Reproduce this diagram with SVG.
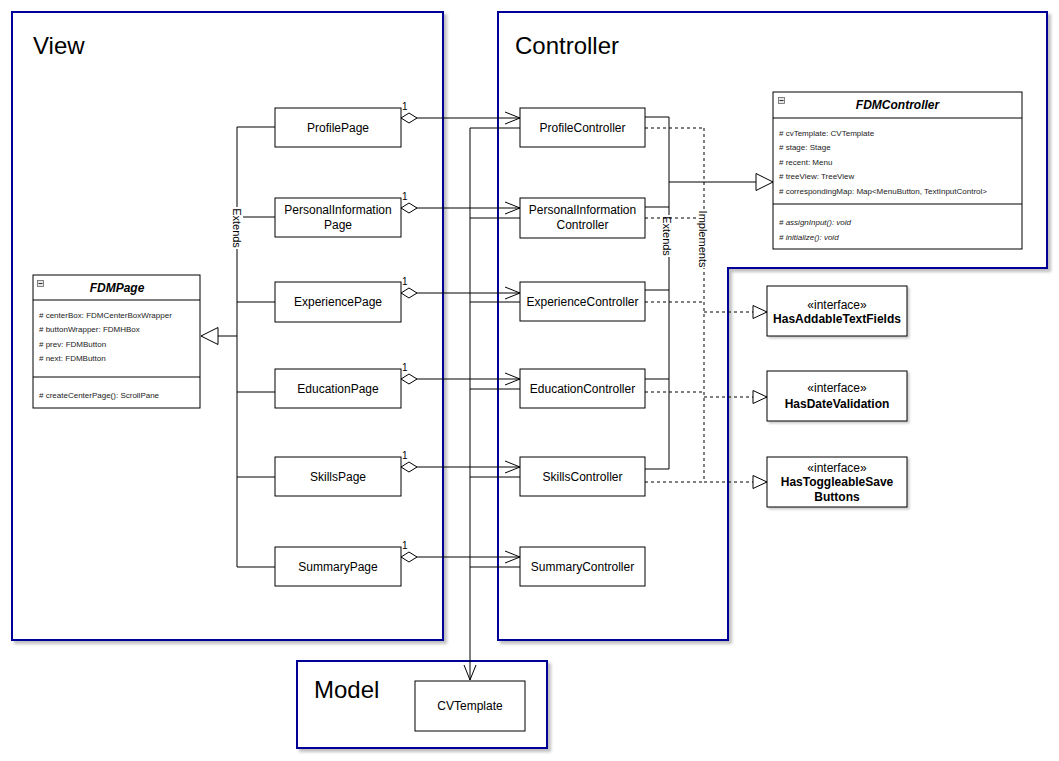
<svg xmlns="http://www.w3.org/2000/svg" width="1059" height="761" viewBox="0 0 1059 761">
  <defs>
    <style>
      .pkg { fill: #ffffff; stroke: #000099; stroke-width: 2; filter: url(#shadow); }
      .pkg-title { font-family: "Liberation Sans", Arial, sans-serif; font-size: 24px; fill: #000; }
      .node { fill: #ffffff; stroke: #000; stroke-width: 1; }
      .soft { filter: url(#nodeShadow); }
      .label { font-family: "Liberation Sans", Arial, sans-serif; font-size: 12px; fill: #000; text-anchor: middle; }
      .bold { font-weight: bold; }
      .cls-title { font-family: "Liberation Sans", Arial, sans-serif; font-size: 12px; font-weight: bold; font-style: italic; text-anchor: middle; }
      .member { font-family: "Liberation Sans", Arial, sans-serif; font-size: 8px; fill: #222; }
      .italic { font-style: italic; }
      .edge { fill: none; stroke: #000; stroke-width: 1; }
      .dashed { stroke-dasharray: 3 3; }
      .mult { font-family: "Liberation Sans", Arial, sans-serif; font-size: 10px; fill: #000; }
      .elabel { font-family: "Liberation Sans", Arial, sans-serif; font-size: 11px; fill: #000; text-anchor: middle; dominant-baseline: central; }
      .toggle { fill: #e6e6e6; stroke: #666; stroke-width: 0.8; }
    </style>
    <filter id="shadow" x="-5%" y="-5%" width="115%" height="115%">
      <feDropShadow dx="3" dy="3" stdDeviation="1.5" flood-color="#000" flood-opacity="0.25"/>
    </filter>
    <filter id="nodeShadow" x="-5%" y="-5%" width="115%" height="120%">
      <feDropShadow dx="2" dy="2" stdDeviation="1" flood-color="#000" flood-opacity="0.2"/>
    </filter>
    <!-- aggregation diamond (start of path) -->
    <marker id="diamond" markerUnits="userSpaceOnUse" viewBox="-1 -1 18 12" refX="0" refY="5" markerWidth="18" markerHeight="12" orient="auto">
      <path d="M0,5 L8,0 L16,5 L8,10 Z" fill="#fff" stroke="#000" stroke-width="1"/>
    </marker>
    <!-- open navigability arrow -->
    <marker id="open" markerUnits="userSpaceOnUse" viewBox="-1 -1 17 14" refX="15" refY="6" markerWidth="17" markerHeight="14" orient="auto">
      <path d="M0,0 L15,6 L0,12" fill="none" stroke="#000" stroke-width="1"/>
    </marker>
    <!-- generalization triangle -->
    <marker id="gen" markerUnits="userSpaceOnUse" viewBox="-1 -1 19 19" refX="17" refY="8.5" markerWidth="19" markerHeight="19" orient="auto">
      <path d="M0,0 L17,8.5 L0,17 Z" fill="#fff" stroke="#000" stroke-width="1"/>
    </marker>
    <!-- realization triangle -->
    <marker id="real" markerUnits="userSpaceOnUse" viewBox="-1 -1 16 15" refX="14" refY="6.5" markerWidth="16" markerHeight="15" orient="auto">
      <path d="M0,0 L14,6.5 L0,13 Z" fill="#fff" stroke="#000" stroke-width="1"/>
    </marker>
  </defs>

  <rect width="1059" height="761" fill="#ffffff"/>

  <!-- packages -->
  <g id="pkg-view">
    <rect class="pkg" x="12" y="12" width="431" height="628"/>
    <text class="pkg-title" x="33" y="54">View</text>
  </g>
  <g id="pkg-controller">
    <polygon class="pkg" points="498,12 1047,12 1047,268 728,268 728,640 498,640"/>
    <text class="pkg-title" x="515" y="54">Controller</text>
  </g>
  <g id="pkg-model">
    <rect class="pkg" x="297" y="661" width="250" height="87"/>
    <text class="pkg-title" x="314" y="698">Model</text>
  </g>

  <!-- connectors -->
  <g id="connectors">
    <!-- pages extend FDMPage -->
    <path class="edge" d="M237,127 V567"/>
    <path class="edge" d="M237,127 H275 M237,217 H275 M237,302 H275 M237,392 H275 M237,477 H275 M237,567 H275"/>
    <path class="edge" d="M237,336 H201" marker-end="url(#gen)"/>
    <rect x="231" y="207" width="12" height="42" fill="#fff"/>
    <text class="elabel" transform="translate(237,228) rotate(90)">Extends</text>

    <!-- page to controller aggregations -->
    <path class="edge" d="M401,118 H520" marker-start="url(#diamond)" marker-end="url(#open)"/>
    <path class="edge" d="M401,208 H520" marker-start="url(#diamond)" marker-end="url(#open)"/>
    <path class="edge" d="M401,293 H520" marker-start="url(#diamond)" marker-end="url(#open)"/>
    <path class="edge" d="M401,379 H520" marker-start="url(#diamond)" marker-end="url(#open)"/>
    <path class="edge" d="M401,467 H520" marker-start="url(#diamond)" marker-end="url(#open)"/>
    <path class="edge" d="M401,557 H520" marker-start="url(#diamond)" marker-end="url(#open)"/>
    <text class="mult" x="402" y="110">1</text>
    <text class="mult" x="402" y="200">1</text>
    <text class="mult" x="402" y="285">1</text>
    <text class="mult" x="402" y="371">1</text>
    <text class="mult" x="402" y="459">1</text>
    <text class="mult" x="402" y="549">1</text>

    <!-- controllers use CVTemplate -->
    <path class="edge" d="M520,128 H470 M520,218 H470 M520,302 H470 M520,389 H470 M520,477 H470 M520,567 H470"/>
    <path class="edge" d="M470,128 V680" marker-end="url(#open)"/>

    <!-- controllers extend FDMController -->
    <path class="edge" d="M669,117 V469"/>
    <path class="edge" d="M645,117 H669 M645,207 H669 M645,290 H669 M645,379 H669 M645,469 H669"/>
    <path class="edge" d="M669,182 H773" marker-end="url(#gen)"/>
    <rect x="661" y="215" width="12" height="42" fill="#fff"/>
    <text class="elabel" transform="translate(667,236) rotate(90)">Extends</text>

    <!-- controllers implement interfaces -->
    <path class="edge dashed" d="M704,128 V482"/>
    <path class="edge dashed" d="M645,128 H704 M645,218 H704 M645,302 H704 M645,392 H704 M645,482 H704"/>
    <path class="edge dashed" d="M704,312 H767" marker-end="url(#real)"/>
    <path class="edge dashed" d="M704,397 H767" marker-end="url(#real)"/>
    <path class="edge dashed" d="M704,482 H767" marker-end="url(#real)"/>
    <rect x="697" y="211" width="13" height="57" fill="#fff"/>
    <text class="elabel" transform="translate(703,239) rotate(90)">Implements</text>
  </g>

  <!-- view nodes -->
  <g id="FDMPage">
    <rect class="node" x="33" y="275" width="167" height="133"/>
    <line class="edge" x1="33" y1="300" x2="200" y2="300"/>
    <line class="edge" x1="33" y1="377" x2="200" y2="377"/>
    <rect class="toggle" x="37.5" y="280.5" width="6" height="6"/>
    <line x1="38.5" y1="283.5" x2="42.5" y2="283.5" stroke="#333" stroke-width="1"/>
    <text class="cls-title" x="117" y="292">FDMPage</text>
    <text class="member" x="39" y="318">#  centerBox: FDMCenterBoxWrapper</text>
    <text class="member" x="39" y="332">#  buttonWrapper: FDMHBox</text>
    <text class="member" x="39" y="347">#  prev: FDMButton</text>
    <text class="member" x="39" y="361">#  next: FDMButton</text>
    <text class="member" x="39" y="398">#  createCenterPage(): ScrollPane</text>
  </g>
  <g id="ProfilePage">
    <rect class="node" x="275" y="108" width="126" height="39"/>
    <text class="label" x="338" y="132">ProfilePage</text>
  </g>
  <g id="PersonalInformationPage">
    <rect class="node" x="275" y="198" width="126" height="39"/>
    <text class="label" x="338" y="214">PersonalInformation</text>
    <text class="label" x="338" y="229">Page</text>
  </g>
  <g id="ExperiencePage">
    <rect class="node" x="275" y="282" width="126" height="40"/>
    <text class="label" x="338" y="306">ExperiencePage</text>
  </g>
  <g id="EducationPage">
    <rect class="node" x="275" y="369" width="126" height="39"/>
    <text class="label" x="338" y="393">EducationPage</text>
  </g>
  <g id="SkillsPage">
    <rect class="node" x="275" y="457" width="126" height="39"/>
    <text class="label" x="338" y="481">SkillsPage</text>
  </g>
  <g id="SummaryPage">
    <rect class="node" x="275" y="547" width="126" height="39"/>
    <text class="label" x="338" y="571">SummaryPage</text>
  </g>

  <!-- controller nodes -->
  <g id="ProfileController">
    <rect class="node" x="520" y="108" width="125" height="39"/>
    <text class="label" x="582.5" y="132">ProfileController</text>
  </g>
  <g id="PersonalInformationController">
    <rect class="node" x="520" y="198" width="125" height="40"/>
    <text class="label" x="582.5" y="214">PersonalInformation</text>
    <text class="label" x="582.5" y="229">Controller</text>
  </g>
  <g id="ExperienceController">
    <rect class="node" x="520" y="282" width="125" height="39"/>
    <text class="label" x="582.5" y="306">ExperienceController</text>
  </g>
  <g id="EducationController">
    <rect class="node" x="520" y="369" width="125" height="39"/>
    <text class="label" x="582.5" y="393">EducationController</text>
  </g>
  <g id="SkillsController">
    <rect class="node" x="520" y="457" width="125" height="39"/>
    <text class="label" x="582.5" y="481">SkillsController</text>
  </g>
  <g id="SummaryController">
    <rect class="node" x="520" y="547" width="125" height="39"/>
    <text class="label" x="582.5" y="571">SummaryController</text>
  </g>

  <g id="FDMController">
    <rect class="node" x="773" y="92" width="249" height="157"/>
    <line class="edge" x1="773" y1="118" x2="1022" y2="118"/>
    <line class="edge" x1="773" y1="204" x2="1022" y2="204"/>
    <rect class="toggle" x="778.5" y="97.5" width="6" height="6"/>
    <line x1="779.5" y1="100.5" x2="783.5" y2="100.5" stroke="#333" stroke-width="1"/>
    <text class="cls-title" x="897.5" y="109">FDMController</text>
    <text class="member" x="779" y="136">#  cvTemplate: CVTemplate</text>
    <text class="member" x="779" y="150">#  stage: Stage</text>
    <text class="member" x="779" y="165">#  recent: Menu</text>
    <text class="member" x="779" y="179">#  treeView: TreeView</text>
    <text class="member" x="779" y="194">#  correspondingMap: Map&lt;MenuButton, TextInputControl&gt;</text>
    <text class="member italic" x="779" y="225">#  assignInput(): void</text>
    <text class="member italic" x="779" y="240">#  initialize(): void</text>
  </g>

  <!-- interfaces -->
  <g id="HasAddableTextFields">
    <rect class="node soft" x="767" y="286" width="140" height="50"/>
    <text class="label" x="837" y="309">«interface»</text>
    <text class="label bold" x="837" y="323">HasAddableTextFields</text>
  </g>
  <g id="HasDateValidation">
    <rect class="node soft" x="767" y="371" width="140" height="50"/>
    <text class="label" x="837" y="392">«interface»</text>
    <text class="label bold" x="837" y="408">HasDateValidation</text>
  </g>
  <g id="HasToggleableSaveButtons">
    <rect class="node soft" x="767" y="457" width="140" height="50"/>
    <text class="label" x="837" y="472">«interface»</text>
    <text class="label bold" x="837" y="486">HasToggleableSave</text>
    <text class="label bold" x="837" y="501">Buttons</text>
  </g>

  <!-- model -->
  <g id="CVTemplate">
    <rect class="node" x="415" y="681" width="110" height="50"/>
    <text class="label" x="470" y="710">CVTemplate</text>
  </g>
</svg>
